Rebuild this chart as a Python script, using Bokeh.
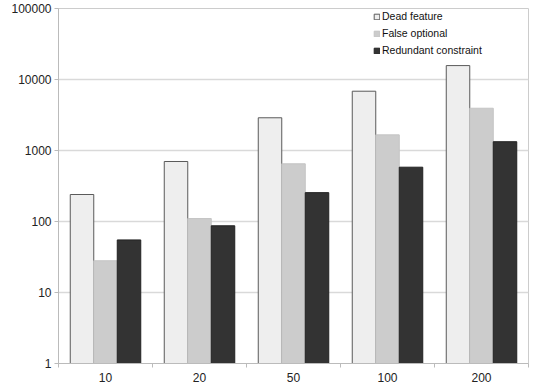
import numpy as np
from bokeh.plotting import figure
from bokeh.models import (ColumnDataSource, Range1d, FixedTicker, PrintfTickFormatter,
                          Legend, LegendItem)
from bokeh.transform import dodge
from bokeh.embed import file_html
from bokeh.resources import INLINE

categories = ["10", "20", "50", "100", "200"]
dead_feature = [240, 700, 2890, 6840, 15700]
false_optional = [28, 110, 650, 1660, 3940]
redundant_constraint = [55, 87, 255, 582, 1330]
series_names = ["Dead feature", "False optional", "Redundant constraint"]
y_ticks = [1, 10, 100, 1000, 10000, 100000]

centers = np.arange(len(categories)) + 0.5
src = ColumnDataSource(dict(x=centers, dead=dead_feature, fo=false_optional,
                            rc=redundant_constraint, bottom=[1] * len(categories)))

p = figure(frame_width=470, frame_height=355, output_backend="svg", toolbar_location=None,
           y_axis_type="log", x_range=Range1d(0, len(categories)),
           y_range=Range1d(1, 100000),
           min_border_left=58, min_border_right=2, min_border_top=8, min_border_bottom=4)

fills = ["#eeeeee", "#cccccc", "#333333"]
lines = ["#5a5a5a", "#c4c4c4", "#222222"]
offsets = [-0.25, 0.0, 0.25]
cols = ["dead", "fo", "rc"]
renderers = []
for c, off, f, l in zip(cols, offsets, fills, lines):
    r = p.vbar(x=dodge("x", off, range=p.x_range), top=c, bottom="bottom", width=0.25,
               source=src, fill_color=f, line_color=l, line_width=1)
    renderers.append(r)

legend = Legend(items=[LegendItem(label=n, renderers=[r]) for n, r in zip(series_names, renderers)],
                location=(315, 307), border_line_color=None, background_fill_alpha=0.0,
                label_text_font="Liberation Sans", label_text_font_size="10.5px",
                label_text_color="#111111",
                glyph_width=7, glyph_height=7, label_height=12, spacing=5,
                padding=2, margin=0, label_standoff=2)
p.add_layout(legend)

p.xaxis.ticker = FixedTicker(ticks=list(centers), minor_ticks=list(np.arange(len(categories) + 1)))
p.xaxis.major_label_overrides = {float(c): lab for c, lab in zip(centers, categories)}
p.xaxis.major_tick_line_color = None
p.xaxis.minor_tick_out = 4
p.xaxis.minor_tick_in = 0
p.xaxis.minor_tick_line_color = "#bbbbbb"

p.yaxis.ticker = FixedTicker(ticks=y_ticks, minor_ticks=[])
p.yaxis.formatter = PrintfTickFormatter(format="%d")
p.yaxis.major_tick_out = 4
p.yaxis.major_tick_in = 0
p.yaxis.major_tick_line_color = "#bbbbbb"

for ax in (p.xaxis, p.yaxis):
    ax.axis_line_color = "#bbbbbb"
    ax.major_label_text_font = "Liberation Sans"
    ax.major_label_text_font_size = "12px"
    ax.major_label_text_color = "#222222"
    ax.major_label_standoff = 3

p.xgrid.grid_line_color = None
p.ygrid.grid_line_color = "#d9d9d9"
p.ygrid.grid_line_width = 1.5
p.outline_line_color = "#cccccc"
p.background_fill_color = "white"
p.border_fill_color = "white"

open("out.html", "w").write(file_html(p, INLINE))
